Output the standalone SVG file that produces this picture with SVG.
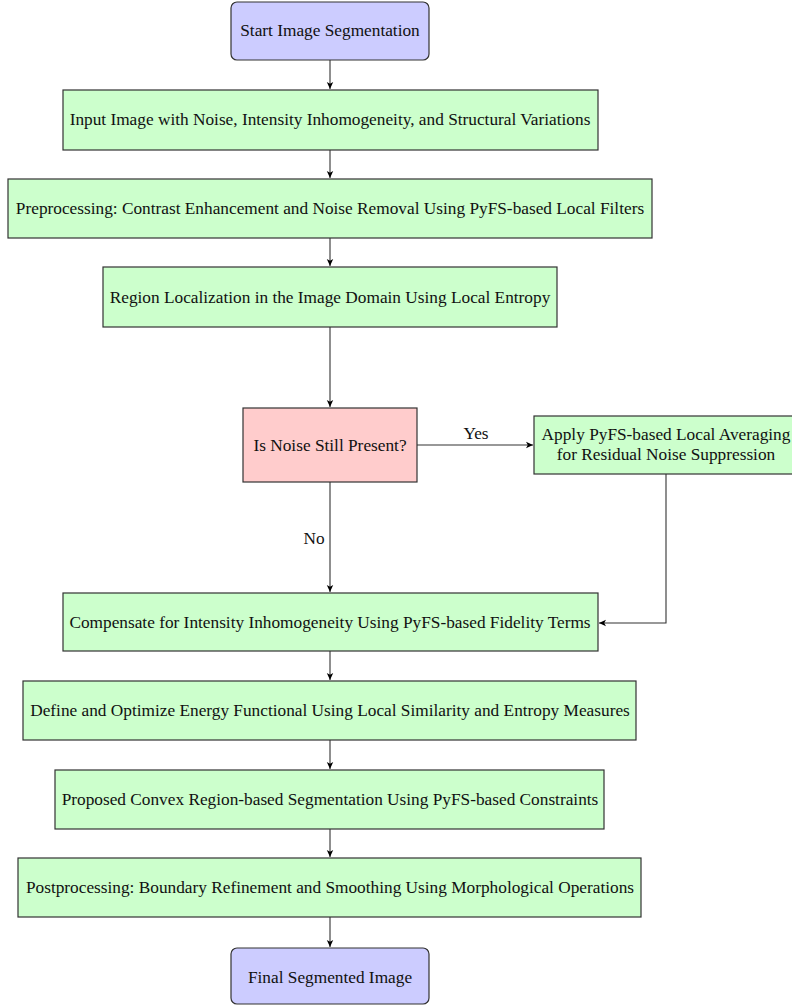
<svg xmlns="http://www.w3.org/2000/svg" width="792" height="1006" viewBox="0 0 792 1006">
<defs>
<marker id="arr" markerWidth="8" markerHeight="8" refX="7" refY="4" orient="auto" markerUnits="userSpaceOnUse">
<path d="M0,0.8 L7,4 L0,7.2 L1.8,4 Z" fill="#000"/>
</marker>
<style>
.box{stroke:#333;stroke-width:1.2}
.start{fill:#ccccff}
.proc{fill:#ccffcc}
.dec{fill:#ffcccc}
text{font-family:"Liberation Serif","Times New Roman",serif;font-size:17.3px;fill:#111;text-anchor:middle;dominant-baseline:central}
.conn{stroke:#333;stroke-width:1.1;fill:none;marker-end:url(#arr)}
</style>
</defs>
<rect width="792" height="1006" fill="#fff"/>
<g id="connectors">
<path class="conn" d="M330,60 V89"/>
<path class="conn" d="M330,150 V178"/>
<path class="conn" d="M330,238 V266"/>
<path class="conn" d="M330,327 V407"/>
<path class="conn" d="M417,445 H533"/>
<path class="conn" d="M330,482 V592"/>
<path class="conn" d="M666,474 V623 H599"/>
<path class="conn" d="M330,651 V680"/>
<path class="conn" d="M330,740 V769"/>
<path class="conn" d="M330,829 V857"/>
<path class="conn" d="M330,917 V947"/>
<text x="476" y="433">Yes</text>
<text x="314" y="538">No</text>
</g>
<g id="start"><rect class="box start" x="231" y="2" width="198" height="58" rx="6"/><text x="330" y="30">Start Image Segmentation</text></g>
<g id="input"><rect class="box proc" x="63" y="90" width="535" height="60"/><text x="330" y="119">Input Image with Noise, Intensity Inhomogeneity, and Structural Variations</text></g>
<g id="preprocessing"><rect class="box proc" x="8" y="179" width="644" height="59"/><text x="330" y="208">Preprocessing: Contrast Enhancement and Noise Removal Using PyFS-based Local Filters</text></g>
<g id="localization"><rect class="box proc" x="103" y="267" width="454" height="60"/><text x="330" y="297">Region Localization in the Image Domain Using Local Entropy</text></g>
<g id="decision"><rect class="box dec" x="243" y="408" width="174" height="74"/><text x="330" y="445">Is Noise Still Present?</text></g>
<g id="averaging"><rect class="box proc" x="534" y="416" width="265" height="58"/><text x="666" y="434">Apply PyFS-based Local Averaging</text><text x="666" y="454">for Residual Noise Suppression</text></g>
<g id="compensate"><rect class="box proc" x="63" y="593" width="535" height="58"/><text x="330" y="622">Compensate for Intensity Inhomogeneity Using PyFS-based Fidelity Terms</text></g>
<g id="energy"><rect class="box proc" x="23" y="681" width="613" height="59"/><text x="330" y="710">Define and Optimize Energy Functional Using Local Similarity and Entropy Measures</text></g>
<g id="convex"><rect class="box proc" x="55" y="770" width="549" height="59"/><text x="330" y="799">Proposed Convex Region-based Segmentation Using PyFS-based Constraints</text></g>
<g id="postprocessing"><rect class="box proc" x="18" y="858" width="623" height="59"/><text x="330" y="887">Postprocessing: Boundary Refinement and Smoothing Using Morphological Operations</text></g>
<g id="final"><rect class="box start" x="231" y="948" width="198" height="56" rx="6"/><text x="330" y="977">Final Segmented Image</text></g>
</svg>
